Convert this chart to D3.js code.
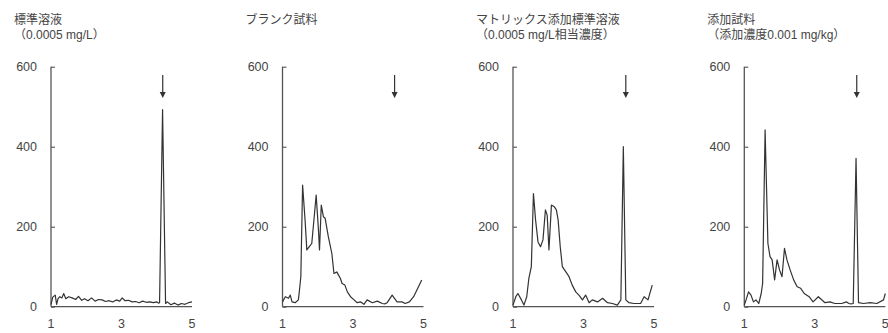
<!DOCTYPE html>
<html><head><meta charset="utf-8">
<script src="https://cdn.jsdelivr.net/npm/d3@7"></script>
<style>
html,body{margin:0;padding:0;background:#fff;}
svg{display:block;}
text{font-family:"Liberation Sans","Noto Sans CJK JP",sans-serif;fill:#444;}
</style></head>
<body>
<script>
// ---- data ----
const titles = [
  ["標準溶液", "（0.0005 mg/L）"],
  ["ブランク試料"],
  ["マトリックス添加標準溶液", "（0.0005 mg/L相当濃度）"],
  ["添加試料", "（添加濃度0.001 mg/kg）"]
];
const xTicks = [1, 3, 5];
const yTicks = [0, 200, 400, 600];
const arrowTime = [4.17, 4.18, 4.2, 4.19];

const t1 = [1.0,1.05,1.12,1.16,1.2,1.25,1.31,1.36,1.42,1.5,1.6,1.7,1.78,1.87,1.95,2.05,2.15,2.25,2.35,2.45,2.55,2.65,2.75,2.85,2.95,3.02,3.1,3.2,3.3,3.4,3.5,3.6,3.7,3.8,3.9,4.0,4.05,4.08,4.165,4.25,4.3,4.4,4.5,4.6,4.7,4.8,4.9,5.0];
const v1 = [5,24,29,6,20,25,22,33,20,25,22,18,26,16,20,15,22,14,18,17,13,15,12,17,14,22,15,16,12,13,10,14,11,12,10,12,9,10,493,8,12,5,9,4,8,6,10,12];

const t2 = [1.0,1.08,1.17,1.22,1.27,1.36,1.45,1.48,1.52,1.57,1.64,1.69,1.76,1.83,1.9,1.955,2.02,2.05,2.1,2.16,2.21,2.3,2.4,2.46,2.54,2.59,2.64,2.69,2.77,2.84,2.93,3.03,3.12,3.22,3.31,3.4,3.55,3.69,3.83,3.9,3.97,4.11,4.25,4.39,4.48,4.6,4.72,4.95];
const v2 = [12,25,21,29,12,10,17,40,75,304,217,142,150,158,225,279,192,142,254,225,221,175,133,83,87,79,71,58,54,37,25,17,10,12,6,17,10,14,8,7,10,29,12,12,8,12,25,67];

const t3 = [1.0,1.08,1.14,1.24,1.31,1.39,1.45,1.52,1.58,1.64,1.71,1.78,1.85,1.92,1.97,2.02,2.09,2.17,2.23,2.28,2.34,2.4,2.5,2.59,2.68,2.78,2.87,2.97,3.06,3.16,3.25,3.4,3.54,3.68,3.82,3.96,4.06,4.13,4.2,4.29,4.43,4.62,4.72,4.83,4.95];
const v3 = [4,25,33,17,4,25,71,100,283,217,162,150,167,242,229,142,254,250,242,217,150,100,87,75,54,37,29,17,29,10,17,12,21,10,8,4,17,400,17,10,8,8,25,17,54];

const t4 = [1.0,1.05,1.12,1.19,1.26,1.33,1.41,1.48,1.52,1.59,1.67,1.73,1.79,1.86,1.93,2.0,2.07,2.14,2.21,2.3,2.4,2.5,2.6,2.7,2.84,2.95,3.1,3.29,3.43,3.57,3.76,3.9,3.97,4.03,4.09,4.17,4.24,4.38,4.57,4.76,4.95,5.0];
const v4 = [4,17,37,29,12,17,8,33,58,442,158,125,117,67,117,92,75,146,117,92,67,50,46,33,25,12,25,10,12,8,8,12,8,7,8,371,10,8,10,8,17,33];

const times = [t1, t2, t3, t4];
const values = [v1, v2, v3, v4];

// ---- drawing ----
const W = 888, H = 333;
const svg = d3.select("body").append("svg").attr("width", W).attr("height", H);

const panelLeft = [51, 282.5, 513, 744.3];
const plotW = 141;
const y = d3.scaleLinear().domain([0, 600]).range([306.7, 66.7]);

const lineCol = "#333";
const axisCol = "#555";

panelLeft.forEach((left, i) => {
  const x = d3.scaleLinear().domain([1, 5]).range([left, left + plotW]);
  const g = svg.append("g");

  // titles
  titles[i].forEach((s, k) => {
    g.append("text").attr("x", left - 37).attr("y", 24 + k * 15)
      .attr("font-size", 12).text(s);
  });

  // y axis
  const ya = g.append("g").attr("transform", `translate(${left},0)`)
    .call(d3.axisRight(y).tickValues(yTicks).tickSize(4).tickFormat(""));
  ya.select(".domain").attr("stroke", axisCol).attr("stroke-width", 1.3)
    .attr("d", `M0,${y(600)}V${y(0)}`);
  ya.selectAll(".tick line").attr("stroke", axisCol).attr("stroke-width", 1.1);
  yTicks.forEach(t => {
    g.append("text").attr("x", left - 14).attr("y", y(t) + 4.5)
      .attr("text-anchor", "end").attr("font-size", 12.5).text(t);
  });

  // x axis
  const xa = g.append("g").attr("transform", `translate(0,${y(0)})`)
    .call(d3.axisBottom(x).tickValues(xTicks).tickSize(0).tickFormat(""));
  xa.select(".domain").attr("stroke", axisCol).attr("stroke-width", 1.3)
    .attr("d", `M${left},0H${left + plotW}`);
  xTicks.forEach(t => {
    g.append("text").attr("x", x(t)).attr("y", 328)
      .attr("text-anchor", "middle").attr("font-size", 12.5).text(t);
  });

  // trace
  const pts = times[i].map((t, k) => [t, values[i][k]]);
  g.append("path").datum(pts)
    .attr("fill", "none").attr("stroke", lineCol).attr("stroke-width", 1.2)
    .attr("stroke-linejoin", "round")
    .attr("d", d3.line().x(d => x(d[0])).y(d => y(d[1])));

  // arrow
  const ax = x(arrowTime[i]);
  g.append("line").attr("x1", ax).attr("x2", ax).attr("y1", 75).attr("y2", 94)
    .attr("stroke", "#333").attr("stroke-width", 1.2);
  g.append("path").attr("d", `M${ax - 3},92L${ax + 3},92L${ax},98Z`).attr("fill", "#333");
});
</script>
</body></html>
